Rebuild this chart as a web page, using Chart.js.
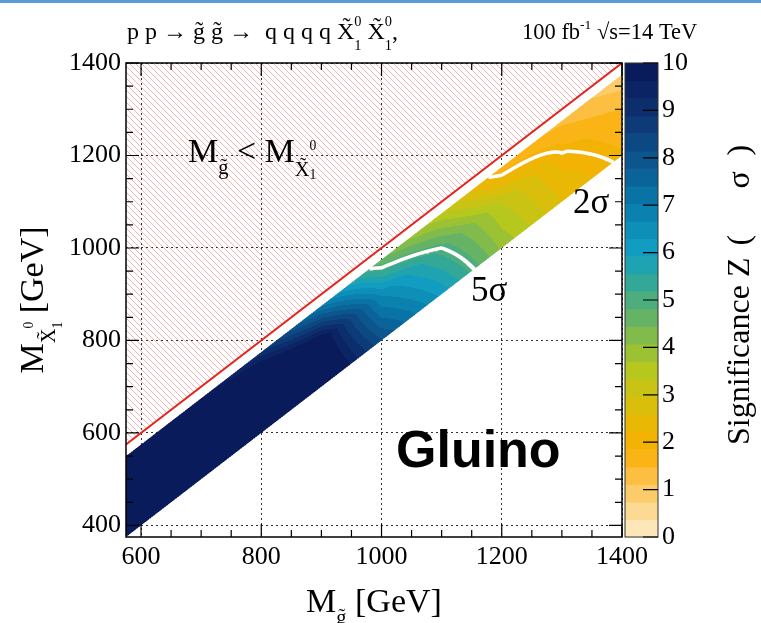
<!DOCTYPE html>
<html>
<head>
<meta charset="utf-8">
<script src="https://cdn.jsdelivr.net/npm/chart.js@4.4.1/dist/chart.umd.min.js"></script>
<style>
  html, body { margin: 0; padding: 0; background: #fff; }
  #wrap { position: relative; width: 761px; height: 623px; }
  #topbar { position: absolute; left: 0; top: 0; width: 761px; height: 3px; background: #5b9bd5; }
</style>
</head>
<body>
<div id="wrap">
  <canvas id="sigChart" width="761" height="623"></canvas>
  <div id="topbar"></div>
</div>
<script>
// gluino mass grid [GeV] and mass splitting M(gluino) - M(neutralino) [GeV]
const gluinoMass = [575, 600, 700, 800, 900, 1000, 1100, 1200, 1300, 1400];
const massSplit = [25, 100, 200];

// significance Z along the gluino mass grid, one row per mass splitting
const zSplit25  = [10.5, 10.4, 9.8, 9.0, 7.0, 4.5, 3.4, 1.6, 1.4, 0.8];
const zSplit100 = [12, 12, 12, 11.5, 10.2, 6.6, 5.0, 3.3, 2.05, 1.5];
const zSplit200 = [12, 12, 12, 12, 11, 8.2, 6.2, 4.0, 2.6, 1.9];
const zRows = [zSplit25, zSplit100, zSplit200];

// discovery / exclusion contours
const sigmaLevels = [5, 2];

const xTicks = [600, 800, 1000, 1200, 1400];
const yTicks = [400, 600, 800, 1000, 1200, 1400];
const zTicks = [0, 1, 2, 3, 4, 5, 6, 7, 8, 9, 10];

const xMin = 575, xMax = 1400, yMin = 375, yMax = 1400;
const zMax = 10;
const nLevels = 27;

const SERIF = '"Liberation Serif", "Times New Roman", serif';

// colour stops of the palette (z, rgb)
const paletteStops = [
  [0.0, [253, 237, 202]],
  [0.6, [252, 216, 144]],
  [1.2, [252, 194, 76]],
  [1.8, [249, 176, 6]],
  [2.4, [232, 184, 4]],
  [3.0, [208, 194, 16]],
  [3.6, [178, 200, 32]],
  [4.2, [132, 188, 72]],
  [4.8, [90, 176, 112]],
  [5.4, [50, 168, 152]],
  [6.0, [18, 160, 196]],
  [7.0, [10, 124, 172]],
  [8.0, [12, 84, 140]],
  [9.0, [12, 48, 110]],
  [10.0, [10, 22, 88]]
];

function bracket(arr, v) {
  let i = 0;
  while (i < arr.length - 2 && v > arr[i + 1]) i++;
  const t = (v - arr[i]) / (arr[i + 1] - arr[i]);
  return [i, Math.min(1, Math.max(0, t))];
}

function significance(mg, split) {
  const [i, u] = bracket(gluinoMass, mg);
  const [j, w] = bracket(massSplit, split);
  const a = zRows[j][i] * (1 - u) + zRows[j][i + 1] * u;
  const b = zRows[j + 1][i] * (1 - u) + zRows[j + 1][i + 1] * u;
  return a * (1 - w) + b * w;
}

function paletteAt(z) {
  for (let k = 0; k < paletteStops.length - 1; k++) {
    const [z0, c0] = paletteStops[k];
    const [z1, c1] = paletteStops[k + 1];
    if (z <= z1) {
      const t = Math.max(0, (z - z0) / (z1 - z0));
      return c0.map((c, n) => Math.round(c + (c1[n] - c) * t));
    }
  }
  return paletteStops[paletteStops.length - 1][1];
}

function levelColor(z) {
  const step = zMax / nLevels;
  const k = Math.min(nLevels - 1, Math.max(0, Math.floor(z / step)));
  return paletteAt((k + 0.5) * step);
}

// walk along each mass splitting and find where Z drops through the level
function contourLine(level) {
  const pts = [];
  const dLo = massSplit[0], dHi = massSplit[massSplit.length - 1];
  for (let d = dLo; d <= dHi; d += 1) {
    let prevM = gluinoMass[0];
    let prev = significance(prevM, d);
    for (let m = prevM + 1; m <= xMax; m += 1) {
      const z = significance(m, d);
      if (prev >= level && z < level) {
        const mg = prevM + (prev - level) / (prev - z);
        pts.push({ x: mg, y: mg - d });
        break;
      }
      prev = z; prevM = m;
    }
  }
  return pts;
}

function makeHatch() {
  const s = 6;
  const c = document.createElement('canvas');
  c.width = s; c.height = s;
  const g = c.getContext('2d');
  g.strokeStyle = 'rgba(222, 110, 110, 0.5)';
  g.lineWidth = 1;
  g.beginPath();
  g.moveTo(-1, -1); g.lineTo(s + 1, s + 1);
  g.moveTo(-1, s - 1); g.lineTo(1, s + 1);
  g.moveTo(s - 1, -1); g.lineTo(s + 1, 1);
  g.stroke();
  return g.createPattern(c, 'repeat');
}

// text with sub/superscripts: parts = {t, s: size factor, dy: em shift, back: stack on previous}
function richText(g, parts, x, y, size, family, align) {
  let width = 0, last = 0;
  const runs = [];
  for (const p of parts) {
    g.font = `${size * (p.s || 1)}px ${family}`;
    const w = g.measureText(p.t).width;
    if (p.back) width -= last;
    runs.push({ p, at: width, w });
    width += w; last = w;
  }
  const x0 = align === 'center' ? x - width / 2 : x;
  for (const r of runs) {
    g.font = `${size * (r.p.s || 1)}px ${family}`;
    g.fillText(r.p.t, x0 + r.at, y + (r.p.dy || 0) * size);
  }
}

const bandPlugin = {
  id: 'sigBand',
  beforeDatasetsDraw(chart) {
    const { ctx: g, chartArea: a, scales: { x, y } } = chart;
    const w = Math.round(a.right - a.left), h = Math.round(a.bottom - a.top);
    const off = document.createElement('canvas');
    off.width = w; off.height = h;
    const og = off.getContext('2d');
    const img = og.createImageData(w, h);
    const dLo = massSplit[0], dHi = massSplit[massSplit.length - 1];
    const sub = [0.25, 0.75];
    for (let py = 0; py < h; py++) {
      const ys = sub.map(s => y.getValueForPixel(a.top + py + s));
      const yc = y.getValueForPixel(a.top + py + 0.5);
      for (let px = 0; px < w; px++) {
        let cover = 0;
        for (const sx of sub) {
          const mg = x.getValueForPixel(a.left + px + sx);
          for (const ml of ys) {
            const d = mg - ml;
            if (d >= dLo && d <= dHi) cover++;
          }
        }
        if (!cover) continue;
        const mg = x.getValueForPixel(a.left + px + 0.5);
        const d = Math.min(dHi, Math.max(dLo, mg - yc));
        const c = levelColor(significance(mg, d));
        const o = (py * w + px) * 4;
        img.data[o] = c[0]; img.data[o + 1] = c[1]; img.data[o + 2] = c[2];
        img.data[o + 3] = Math.round(cover / 4 * 255);
      }
    }
    og.putImageData(img, 0, 0);
    g.drawImage(off, a.left, a.top);
  }
};

const overlayPlugin = {
  id: 'overlay',
  afterDraw(chart) {
    const { ctx: g, chartArea: a, scales: { x, y, z } } = chart;
    g.save();
    g.fillStyle = '#000';
    g.strokeStyle = '#000';

    // frame with inward ticks on all four sides
    g.lineWidth = 1.5;
    g.strokeRect(a.left, a.top, a.right - a.left, a.bottom - a.top);
    g.lineWidth = 1.2;
    g.beginPath();
    for (let v = 600; v <= xMax; v += 50) {
      const px = x.getPixelForValue(v);
      const len = xTicks.includes(v) ? 13 : 7;
      g.moveTo(px, a.bottom); g.lineTo(px, a.bottom - len);
      g.moveTo(px, a.top); g.lineTo(px, a.top + len);
    }
    for (let v = 400; v <= yMax; v += 50) {
      const py = y.getPixelForValue(v);
      const len = yTicks.includes(v) ? 13 : 7;
      g.moveTo(a.left, py); g.lineTo(a.left + len, py);
      g.moveTo(a.right, py); g.lineTo(a.right - len, py);
    }
    g.stroke();

    // colour bar
    const cbL = a.right + 3, cbR = a.right + 36;
    const step = zMax / nLevels;
    for (let k = 0; k < nLevels; k++) {
      const c = paletteAt((k + 0.5) * step);
      const y0 = z.getPixelForValue(k * step), y1 = z.getPixelForValue((k + 1) * step);
      g.fillStyle = `rgb(${c[0]},${c[1]},${c[2]})`;
      g.fillRect(cbL, y1, cbR - cbL, y0 - y1 + 0.6);
    }
    g.strokeStyle = '#333';
    g.lineWidth = 1;
    g.strokeRect(cbL, z.getPixelForValue(zMax), cbR - cbL, z.getPixelForValue(0) - z.getPixelForValue(zMax));
    g.strokeStyle = '#000';
    g.lineWidth = 1.2;
    g.beginPath();
    for (const v of zTicks) {
      const py = z.getPixelForValue(v);
      g.moveTo(cbR, py); g.lineTo(cbR - 15, py);
    }
    g.stroke();

    g.fillStyle = '#000';
    g.textBaseline = 'alphabetic';
    g.textAlign = 'left';

    // process line and luminosity
    richText(g, [
      { t: 'p p \u2192 g\u0303 g\u0303 \u2192  q q q q X\u0303' },
      { t: '0', s: 0.6, dy: -0.55 }, { t: '1', s: 0.6, dy: 0.45, back: true },
      { t: ' X\u0303' },
      { t: '0', s: 0.6, dy: -0.55 }, { t: '1', s: 0.6, dy: 0.45, back: true },
      { t: ',' }
    ], 127, 39, 24, SERIF);
    richText(g, [
      { t: '100 fb' }, { t: '-1', s: 0.6, dy: -0.45 },
      { t: ' \u221As=14 TeV' }
    ], 522, 39, 22.5, SERIF);

    // forbidden region label
    richText(g, [
      { t: 'M' }, { t: 'g\u0303', s: 0.6, dy: 0.35 },
      { t: ' < M' }, { t: 'X\u0303', s: 0.6, dy: 0.4 },
      { t: '0', s: 0.4, dy: -0.35 }, { t: '1', s: 0.4, dy: 0.5, back: true }
    ], 188, 162, 34, SERIF);

    // contour labels
    g.font = `35px ${SERIF}`;
    g.fillText(`${sigmaLevels[0]}\u03c3`, 471, 301);
    g.fillText(`${sigmaLevels[1]}\u03c3`, 573, 213);

    g.font = 'bold 52px "Liberation Sans", Arial, sans-serif';
    g.fillText('Gluino', 396, 467);

    // axis titles
    richText(g, [
      { t: 'M' }, { t: 'g\u0303', s: 0.6, dy: 0.35 }, { t: ' [GeV]' }
    ], 374, 612, 34, SERIF, 'center');

    g.save();
    g.translate(43, 300);
    g.rotate(-Math.PI / 2);
    richText(g, [
      { t: 'M' }, { t: 'X\u0303', s: 0.6, dy: 0.35 },
      { t: '0', s: 0.4, dy: -0.3 }, { t: '1', s: 0.4, dy: 0.55, back: true },
      { t: ' [GeV]' }
    ], 0, 0, 34, SERIF, 'center');
    g.restore();

    // colour bar title, bracketed unit spaced out
    g.save();
    g.translate(749, 445);
    g.rotate(-Math.PI / 2);
    g.font = `32px ${SERIF}`;
    const wt = g.measureText('Significance Z').width;
    g.fillText('Significance Z', 0, 0);
    g.fillText('(', wt + 12, 0);
    g.fillText('\u03c3', wt + 69, 0);
    g.fillText(')', wt + 102, 0);
    g.restore();

    g.restore();
  }
};

const diagonal = [xMin, xMax].map(m => ({ x: m, y: m }));

const tickFont = { family: SERIF, size: 26 };

new Chart(document.getElementById('sigChart').getContext('2d'), {
  type: 'scatter',
  data: {
    datasets: [
      {
        label: 'M(gluino) = M(neutralino)',
        data: diagonal,
        showLine: true,
        borderColor: '#e3241f',
        borderWidth: 2,
        pointRadius: 0,
        fill: 'end',
        backgroundColor: makeHatch()
      },
      ...sigmaLevels.map(level => ({
        label: `${level} sigma`,
        data: contourLine(level),
        showLine: true,
        borderColor: '#ffffff',
        borderWidth: 3.5,
        pointRadius: 0,
        fill: false
      }))
    ]
  },
  options: {
    responsive: false,
    animation: false,
    layout: { padding: { top: 63, left: 0, right: 0, bottom: 0 } },
    plugins: {
      legend: { display: false },
      tooltip: { enabled: false },
      title: { display: false }
    },
    scales: {
      x: {
        type: 'linear',
        min: xMin,
        max: xMax,
        afterBuildTicks: s => { s.ticks = xTicks.map(v => ({ value: v })); },
        afterFit: s => { s.height = 86; },
        grid: { color: 'rgba(0,0,0,0.8)', lineWidth: 1, drawTicks: false },
        border: { display: false, dash: [2, 3] },
        ticks: {
          font: tickFont, color: '#000', padding: 5,
          maxRotation: 0, autoSkip: false,
          callback: v => String(v)
        }
      },
      y: {
        type: 'linear',
        min: yMin,
        max: yMax,
        afterBuildTicks: s => { s.ticks = yTicks.map(v => ({ value: v })); },
        afterFit: s => { s.width = 126; },
        grid: { color: 'rgba(0,0,0,0.8)', lineWidth: 1, drawTicks: false },
        border: { display: false, dash: [2, 3] },
        ticks: {
          font: tickFont, color: '#000', padding: 5,
          autoSkip: false,
          callback: v => String(v)
        }
      },
      z: {
        type: 'linear',
        position: 'right',
        min: 0,
        max: zMax,
        afterBuildTicks: s => { s.ticks = zTicks.map(v => ({ value: v })); },
        afterFit: s => { s.width = 139; },
        grid: { display: false, drawTicks: false },
        border: { display: false },
        ticks: {
          font: tickFont, color: '#000', padding: 40,
          autoSkip: false,
          callback: v => String(v)
        }
      }
    }
  },
  plugins: [bandPlugin, overlayPlugin]
});
</script>
</body>
</html>
